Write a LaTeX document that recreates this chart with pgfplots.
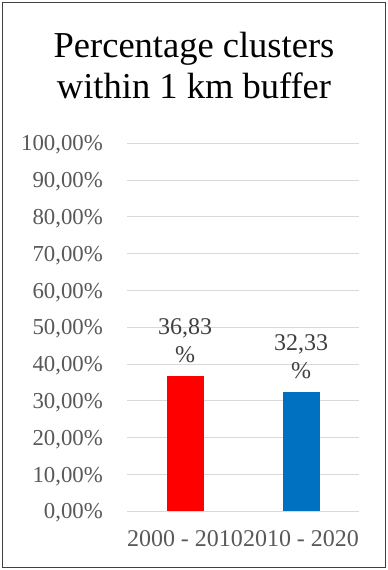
\documentclass[border=0pt]{standalone}
\usepackage{pgfplots}
\pgfplotsset{compat=1.18}
\usepackage{fontspec}
\setmainfont{Liberation Serif}
\definecolor{tickgray}{HTML}{595959}
\definecolor{labgray}{HTML}{404040}
\definecolor{gridgray}{HTML}{D9D9D9}
\definecolor{barred}{HTML}{FF0000}
\definecolor{barblue}{HTML}{0070C0}
\begin{document}
\begin{tikzpicture}
\useasboundingbox (0,0) rectangle (388pt,570pt);
\fill[white] (0,0) rectangle (388pt,570pt);
\draw[line width=1.5pt, color=black!75] (2.5pt,2.5pt) rectangle (385.5pt,567.5pt);
\node[anchor=base, inner sep=0pt, font=\fontsize{36.5}{41}\selectfont] at (194pt,512pt) {Percentage clusters};
\node[anchor=base, inner sep=0pt, font=\fontsize{36.5}{41}\selectfont] at (194pt,471pt) {within 1 km buffer};
\begin{axis}[
  at={(127pt,58.7pt)}, anchor=south west,
  scale only axis, width=232pt, height=368pt,
  xmin=-0.5, xmax=1.5, ymin=0, ymax=100,
  ytick={0,10,20,30,40,50,60,70,80,90,100},
  xtick={0,1}, xticklabels={2000 - 2010, 2010 - 2020},
  axis line style={draw=none},
  major tick length=0pt,
  ymajorgrids, grid style={gridgray, line width=1pt},
  yticklabel={\pgfmathprintnumber[fixed,fixed zerofill,precision=2,use comma,assume math mode=true]{\tick}\%},
  yticklabel style={anchor=base east, inner sep=0pt, xshift=-24pt, yshift=-7.6pt, text=tickgray, font=\fontsize{22.8}{26}\selectfont},
  xticklabel style={anchor=north, inner sep=0pt, yshift=-18.7pt, text=tickgray, font=\fontsize{24}{28}\selectfont},
  nodes near coords={\pgfmathprintnumber[fixed,fixed zerofill,precision=2,use comma,assume math mode=true]{\pgfplotspointmeta}\\\%},
  nodes near coords style={align=center, anchor=south, inner sep=0pt, yshift=13pt, text=labgray, font=\fontsize{24}{28}\selectfont},
]
\addplot[ybar, bar width=37pt, bar shift=0pt, fill=barred, draw=none] coordinates {(0,36.83)};
\addplot[ybar, bar width=37pt, bar shift=0pt, fill=barblue, draw=none] coordinates {(1,32.33)};
\end{axis}
\end{tikzpicture}
\end{document}
